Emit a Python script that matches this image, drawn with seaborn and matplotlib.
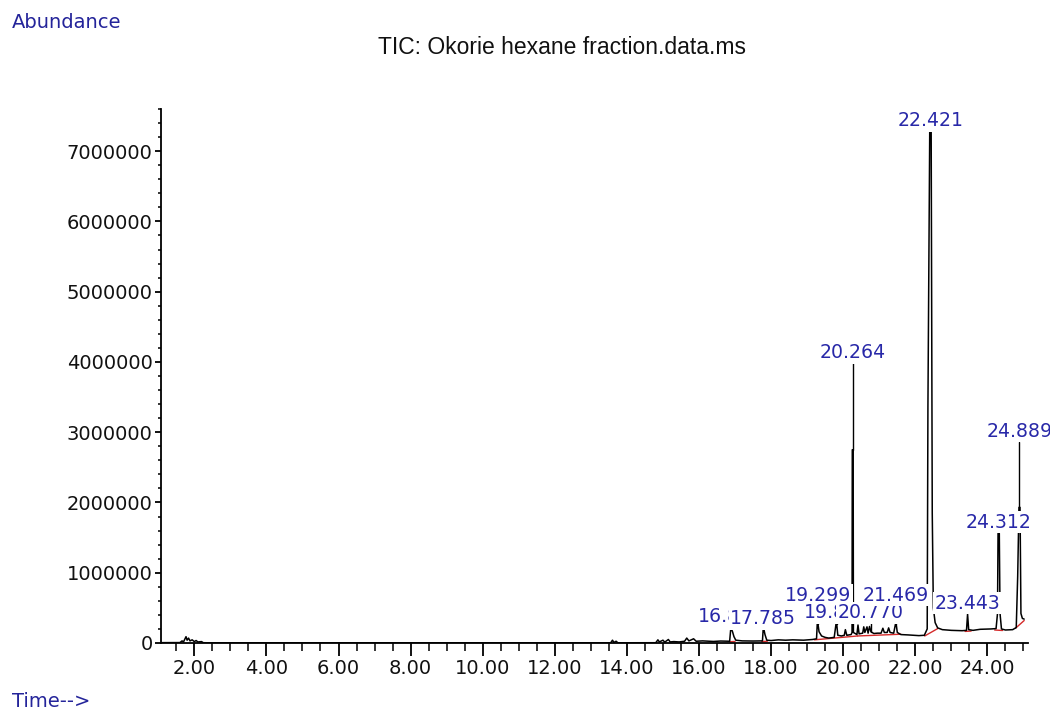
import numpy as np
import pandas as pd
import seaborn as sns
import matplotlib.pyplot as plt
import matplotlib.ticker as mticker

# TIC trace (time in min, abundance in counts)
times = [1.10, 1.60, 1.66, 1.70, 1.74, 1.77, 1.80, 1.84, 1.88, 1.94, 2.00, 2.05, 2.10, 2.20, 2.25,
         2.40, 13.55, 13.60, 13.64, 13.70, 13.75, 14.80, 14.86, 14.90, 15.00, 15.05, 15.15, 15.20,
         15.30, 15.45, 15.60, 15.66, 15.72, 15.85, 15.92, 16.10, 16.40, 16.60, 16.85, 16.88, 16.90,
         16.93, 16.97, 17.02, 17.20, 17.50, 17.76, 17.78, 17.80, 17.83, 17.88, 18.00, 18.20, 18.40,
         18.60, 18.90, 19.15, 19.26, 19.28, 19.30, 19.33, 19.40, 19.50, 19.60, 19.75, 19.80, 19.82,
         19.85, 19.95, 20.03, 20.06, 20.10, 20.22, 20.245, 20.252, 20.276, 20.283, 20.38, 20.41,
         20.44, 20.54, 20.57, 20.60, 20.66, 20.69, 20.73, 20.77, 20.85, 20.95, 21.05, 21.10, 21.14,
         21.22, 21.26, 21.30, 21.40, 21.45, 21.47, 21.50, 21.60, 21.80, 22.10, 22.25, 22.33, 22.35,
         22.40, 22.44, 22.47, 22.50, 22.55, 22.62, 22.75, 23.00, 23.30, 23.42, 23.45, 23.48, 23.60,
         23.80, 24.10, 24.24, 24.28, 24.295, 24.33, 24.35, 24.39, 24.50, 24.70, 24.80, 24.84,
         24.875, 24.905, 24.93, 24.97, 25.02]
abundance = [5000, 6000, 30000, 15000, 60000, 90000, 40000, 70000, 30000, 45000, 20000, 35000, 15000,
             20000, 4000, 3000, 3000, 40000, 8000, 25000, 3000, 4000, 45000, 15000, 40000, 12000,
             50000, 15000, 20000, 15000, 25000, 70000, 30000, 60000, 25000, 30000, 22000, 28000, 25000,
             200000, 200000, 160000, 90000, 40000, 30000, 28000, 30000, 195000, 195000, 120000, 40000,
             35000, 45000, 40000, 45000, 40000, 50000, 60000, 270000, 270000, 160000, 100000, 80000,
             70000, 80000, 270000, 270000, 110000, 100000, 110000, 190000, 110000, 120000, 150000,
             2750000, 2750000, 150000, 120000, 256000, 130000, 140000, 230000, 150000, 230000, 140000,
             235000, 160000, 135000, 140000, 140000, 210000, 150000, 150000, 215000, 150000, 140000,
             270000, 270000, 150000, 120000, 115000, 105000, 110000, 200000, 3360000, 7280000, 7280000,
             1850000, 500000, 290000, 215000, 190000, 180000, 175000, 180000, 412000, 190000, 180000,
             195000, 200000, 205000, 420000, 1560000, 1560000, 420000, 200000, 185000, 190000, 220000,
             950000, 1930000, 1930000, 420000, 350000, 340000]

# integration baseline pieces (red)
base_t = [16.84, 17.00, 17.74, 17.90, 19.20, 20.40, 20.40, 21.60, 22.26, 22.62,
          23.38, 23.55, 24.20, 24.42, 24.78, 25.02]
base_a = [18000, 22000, 20000, 26000, 45000, 100000, 100000, 125000, 100000, 205000,
          165000, 170000, 185000, 178000, 210000, 320000]
base_seg = [0, 0, 1, 1, 2, 2, 3, 3, 4, 4, 5, 5, 6, 6, 7, 7]

# peak labels and the baseline height of each label
peak_labels = ["16.896", "17.785", "19.299", "19.830", "20.264", "20.770", "21.469",
               "22.421", "23.443", "24.312", "24.889"]
label_base = [304000, 270000, 603000, 351000, 4050000, 351000, 603000,
              7354000, 489000, 1640000, 2936000]

df = pd.DataFrame({"time": times, "abundance": abundance})
bl = pd.DataFrame({"time": base_t, "abundance": base_a, "seg": base_seg})

sns.set_theme(style="ticks")
plt.rcParams['font.family'] = ['DejaVu Sans']

fig = plt.figure(figsize=(10.5, 7.1), dpi=100)
ax = fig.add_axes([161 / 1050, 67 / 710, 867 / 1050, 534 / 710])

sns.lineplot(data=bl, x="time", y="abundance", units="seg", estimator=None,
             color="#d42a2a", lw=1.0, ax=ax, zorder=2)
sns.lineplot(data=df, x="time", y="abundance", estimator=None, sort=False,
             color="black", lw=1.1, ax=ax, zorder=3)

ax.set_xlim(1.076, 25.126)
ax.set_ylim(0, 7.6e6)
ax.set_xlabel("")
ax.set_ylabel("")

for s in ["top", "right"]:
    ax.spines[s].set_visible(False)
for s in ["left", "bottom"]:
    ax.spines[s].set_color("black")
    ax.spines[s].set_linewidth(1.3)

ax.xaxis.set_major_locator(mticker.MultipleLocator(2))
ax.xaxis.set_minor_locator(mticker.MultipleLocator(0.5))
ax.xaxis.set_major_formatter(mticker.FormatStrFormatter("%.2f"))
ax.yaxis.set_major_locator(mticker.MultipleLocator(1e6))
ax.yaxis.set_minor_locator(mticker.MultipleLocator(2e5))
ax.yaxis.set_major_formatter(mticker.FuncFormatter(lambda v, p: f"{int(round(v))}"))

ax.tick_params(axis="x", which="major", length=9.4, width=1.3, pad=2, labelsize=14, colors="black")
ax.tick_params(axis="x", which="minor", length=5.8, width=1.3)
ax.tick_params(axis="y", which="major", length=4, width=1.3, pad=2, labelsize=14, colors="black")
ax.tick_params(axis="y", which="minor", length=2.2, width=1.3)
ax.tick_params(axis="both", labelcolor="#111111")

for i, (txt, yb) in enumerate(zip(peak_labels, label_base)):
    t = float(txt)
    near = df[(df["time"] > t - 0.03) & (df["time"] < t + 0.03)]
    apex = near["abundance"].max()
    top = yb - 70000
    if top > apex:
        ax.plot([t, t], [apex, top], color="black", lw=1.0, zorder=3)
    ax.text(t, yb, txt, ha="center", va="baseline", color="#2828a8", fontsize=13.6,
            bbox=dict(facecolor="white", edgecolor="none", boxstyle="square,pad=0.08"),
            zorder=5 + i, clip_on=False)

fig.text(12 / 1050, 1 - 23 / 710, "Abundance", va="center", ha="left", color="#24249a", fontsize=14)
fig.text(12 / 1050, 1 - 701.7 / 710, "Time-->", va="center", ha="left", color="#24249a", fontsize=14)
fig.text(562.5 / 1050, 1 - 47 / 710, "TIC: Okorie hexane fraction.data.ms", ha="center", va="center",
         family="Liberation Sans", fontsize=16.5, color="#111111")

fig.savefig("out.png", dpi=100, facecolor="white")
